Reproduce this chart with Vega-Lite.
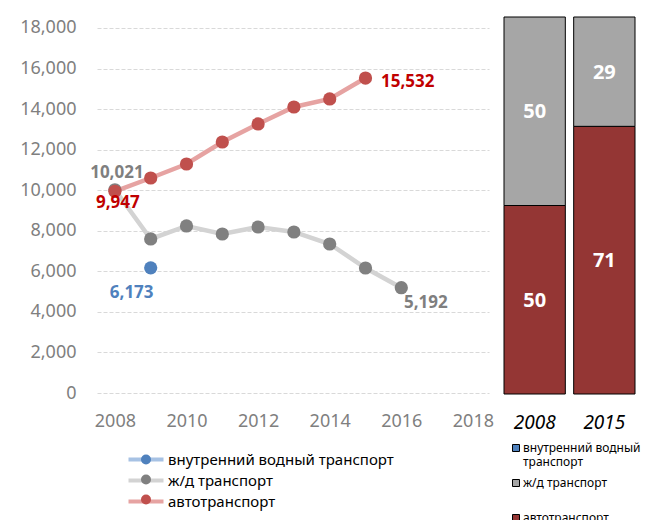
{
  "$schema": "https://vega.github.io/schema/vega-lite/v6.json",
  "padding": {"left": 19, "top": 16, "right": 0, "bottom": 0},
  "bounds": "flush",
  "spacing": 15,
  "background": "white",
  "datasets": {
    "lines": [
      {"series": "внутренний водный транспорт", "year": 2009, "value": 6173},
      {"series": "ж/д транспорт", "year": 2008, "value": 10021},
      {"series": "ж/д транспорт", "year": 2009, "value": 7595},
      {"series": "ж/д транспорт", "year": 2010, "value": 8236},
      {"series": "ж/д транспорт", "year": 2011, "value": 7841},
      {"series": "ж/д транспорт", "year": 2012, "value": 8186},
      {"series": "ж/д транспорт", "year": 2013, "value": 7940},
      {"series": "ж/д транспорт", "year": 2014, "value": 7348},
      {"series": "ж/д транспорт", "year": 2015, "value": 6164},
      {"series": "ж/д транспорт", "year": 2016, "value": 5192},
      {"series": "автотранспорт", "year": 2008, "value": 9947},
      {"series": "автотранспорт", "year": 2009, "value": 10603},
      {"series": "автотранспорт", "year": 2010, "value": 11293},
      {"series": "автотранспорт", "year": 2011, "value": 12378},
      {"series": "автотранспорт", "year": 2012, "value": 13266},
      {"series": "автотранспорт", "year": 2013, "value": 14104},
      {"series": "автотранспорт", "year": 2014, "value": 14499},
      {"series": "автотранспорт", "year": 2015, "value": 15532}
    ],
    "shares": [
      {"year": "2008", "series": "автотранспорт", "value": 50},
      {"year": "2008", "series": "ж/д транспорт", "value": 50},
      {"year": "2015", "series": "автотранспорт", "value": 71},
      {"year": "2015", "series": "ж/д транспорт", "value": 29}
    ]
  },
  "hconcat": [
    {
      "width": 392,
      "height": 376,
      "data": {"name": "lines"},
      "encoding": {
        "x": {"field": "year", "type": "quantitative",
          "scale": {"domain": [2007.5, 2018.45], "nice": false, "zero": false},
          "axis": {"values": [2008, 2010, 2012, 2014, 2016, 2018], "format": "d", "title": null, "grid": false, "domain": false, "ticks": false, "tickSize": 0,
            "labelFont": "Noto Sans", "labelFontSize": 18, "labelColor": "#7F7F7F", "labelPadding": 19, "labelFlush": false}},
        "y": {"field": "value", "type": "quantitative",
          "scale": {"domain": [0, 18542], "nice": false},
          "axis": {"values": [0, 2000, 4000, 6000, 8000, 10000, 12000, 14000, 16000, 18000], "format": ",d", "title": null, "domain": false, "ticks": false, "tickSize": 0,
            "grid": true, "gridColor": "#D9D9D9", "gridDash": [4, 2], "gridWidth": 1,
            "labelFont": "Noto Sans", "labelFontSize": 18, "labelColor": "#7F7F7F", "labelPadding": 21}}
      },
      "layer": [
        {
          "mark": {"type": "line", "strokeWidth": 4.5, "strokeCap": "round"},
          "encoding": {
            "stroke": {"field": "series", "type": "nominal",
              "scale": {"domain": ["внутренний водный транспорт", "ж/д транспорт", "автотранспорт"], "range": ["#A7C2E4", "#D3D3D3", "#E6A3A2"]},
              "legend": {"orient": "none", "legendX": 41.5, "legendY": 435, "title": null, "padding": 0,
                "symbolType": "M-3.5,0H3.5", "symbolSize": 100, "symbolStrokeWidth": 4, "symbolFillColor": "transparent",
                "labelFont": "Noto Sans", "labelFontSize": 15, "labelColor": "#000000", "labelOffset": 14.5, "labelLimit": 400, "rowPadding": 4}}
          }
        },
        {
          "mark": {"type": "circle", "size": 175, "opacity": 1},
          "encoding": {
            "fill": {"field": "series", "type": "nominal",
              "scale": {"domain": ["автотранспорт", "ж/д транспорт", "внутренний водный транспорт"], "range": ["#C0504D", "#808080", "#4F81BD"]},
              "legend": {"orient": "none", "legendX": 41.5, "legendY": 435, "title": null, "padding": 0,
                "values": ["внутренний водный транспорт", "ж/д транспорт", "автотранспорт"],
                "symbolType": "circle", "symbolSize": 100, "symbolStrokeWidth": 0, "symbolOpacity": 1,
                "labelFont": "Noto Sans", "labelFontSize": 15, "labelOpacity": 0, "labelOffset": 14.5, "labelLimit": 400, "rowPadding": 4}}
          }
        },
        {
          "transform": [{"filter": "datum.series == 'автотранспорт' && datum.year == 2008"}],
          "mark": {"type": "text", "font": "Noto Sans", "fontSize": 17, "fontWeight": "bold", "align": "center", "baseline": "middle", "dx": 3, "dy": 12},
          "encoding": {"text": {"field": "value", "format": ","},
            "color": {"field": "series", "type": "nominal", "scale": {"domain": ["внутренний водный транспорт", "ж/д транспорт", "автотранспорт"], "range": ["#4F81BD", "#7F7F7F", "#C00000"]}, "legend": null}}
        },
        {
          "transform": [{"filter": "datum.series == 'ж/д транспорт' && datum.year == 2008"}],
          "mark": {"type": "text", "font": "Noto Sans", "fontSize": 17, "fontWeight": "bold", "align": "center", "baseline": "middle", "dx": 2, "dy": -17},
          "encoding": {"text": {"field": "value", "format": ","},
            "color": {"field": "series", "type": "nominal", "scale": {"domain": ["внутренний водный транспорт", "ж/д транспорт", "автотранспорт"], "range": ["#4F81BD", "#7F7F7F", "#C00000"]}, "legend": null}}
        },
        {
          "transform": [{"filter": "datum.series == 'внутренний водный транспорт'"}],
          "mark": {"type": "text", "font": "Noto Sans", "fontSize": 17, "fontWeight": "bold", "align": "center", "baseline": "middle", "dx": -19, "dy": 25},
          "encoding": {"text": {"field": "value", "format": ","},
            "color": {"field": "series", "type": "nominal", "scale": {"domain": ["внутренний водный транспорт", "ж/д транспорт", "автотранспорт"], "range": ["#4F81BD", "#7F7F7F", "#C00000"]}, "legend": null}}
        },
        {
          "transform": [{"filter": "datum.series == 'автотранспорт' && datum.year == 2015"}],
          "mark": {"type": "text", "font": "Noto Sans", "fontSize": 17, "fontWeight": "bold", "align": "left", "baseline": "middle", "dx": 15.5, "dy": 4},
          "encoding": {"text": {"field": "value", "format": ","},
            "color": {"field": "series", "type": "nominal", "scale": {"domain": ["внутренний водный транспорт", "ж/д транспорт", "автотранспорт"], "range": ["#4F81BD", "#7F7F7F", "#C00000"]}, "legend": null}}
        },
        {
          "transform": [{"filter": "datum.series == 'ж/д транспорт' && datum.year == 2016"}],
          "mark": {"type": "text", "font": "Noto Sans", "fontSize": 17, "fontWeight": "bold", "align": "center", "baseline": "middle", "dx": 24.5, "dy": 15.5},
          "encoding": {"text": {"field": "value", "format": ","},
            "color": {"field": "series", "type": "nominal", "scale": {"domain": ["внутренний водный транспорт", "ж/д транспорт", "автотранспорт"], "range": ["#4F81BD", "#7F7F7F", "#C00000"]}, "legend": null}}
        }
      ]
    },
    {
      "width": 131,
      "height": 377,
      "data": {"name": "shares"},
      "encoding": {
        "x": {"field": "year", "type": "ordinal",
          "scale": {"paddingInner": 0.12, "paddingOuter": 0},
          "axis": {"title": null, "domain": false, "ticks": false, "tickSize": 0, "labelAngle": 0,
            "labelFont": "Noto Sans", "labelFontSize": 19, "labelFontStyle": "italic", "labelColor": "#000000", "labelPadding": 19}}
      },
      "layer": [
        {
          "mark": {"type": "bar", "stroke": "#000000", "strokeWidth": 1},
          "encoding": {
            "y": {"field": "value", "type": "quantitative", "stack": "zero", "scale": {"domain": [0, 100], "nice": false}, "axis": null},
            "order": {"field": "series", "sort": "ascending"},
            "color": {"field": "series", "type": "nominal",
              "scale": {"domain": ["внутренний водный транспорт", "ж/д транспорт", "автотранспорт"], "range": ["#4F81BD", "#A6A6A6", "#943634"]},
              "legend": {"orient": "none", "legendX": 6, "legendY": 425, "title": null, "padding": 0,
                "symbolType": "square", "symbolSize": 49, "symbolStrokeColor": "#000000", "symbolStrokeWidth": 1,
                "labelFont": "Noto Sans", "labelFontSize": 12, "labelColor": "#000000", "labelOffset": 1, "labelLimit": 300, "rowPadding": 9,
                "labelExpr": "datum.label == 'внутренний водный транспорт' ? ['внутренний водный', 'транспорт'] : [datum.label, '']"}}
          }
        },
        {
          "mark": {"type": "text", "font": "Noto Sans", "fontSize": 20, "fontWeight": "bold", "color": "#FFFFFF", "baseline": "middle", "dy": 1},
          "encoding": {
            "y": {"field": "value", "type": "quantitative", "stack": "zero", "bandPosition": 0.5},
            "order": {"field": "series", "sort": "ascending"},
            "detail": {"field": "series"},
            "text": {"field": "value"}
          }
        }
      ]
    }
  ],
  "resolve": {
    "scale": {"color": "independent", "fill": "independent", "stroke": "independent", "x": "independent", "y": "independent"},
    "legend": {"color": "independent", "fill": "independent", "stroke": "independent"}
  },
  "config": {
    "view": {"stroke": null},
    "font": "Noto Sans"
  }
}
